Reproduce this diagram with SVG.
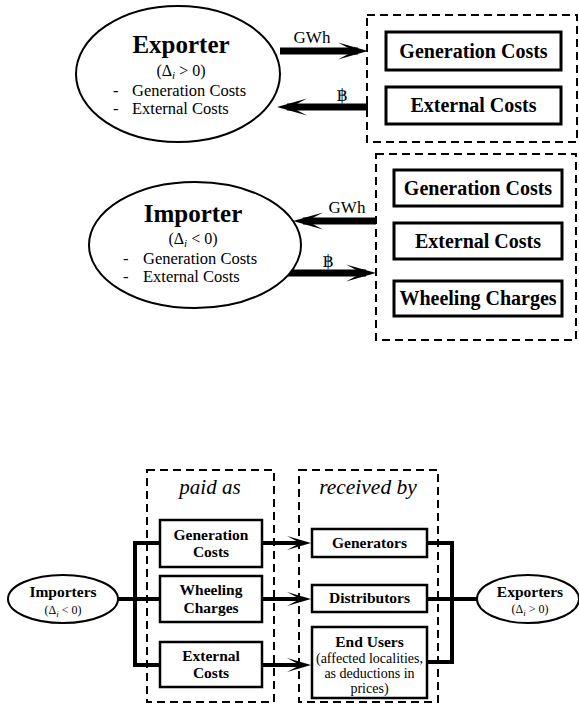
<svg xmlns="http://www.w3.org/2000/svg" width="579" height="710" viewBox="0 0 579 710">
<style>
text{font-family:'Liberation Serif','DejaVu Serif',serif;fill:#000}
.b{font-weight:bold}
.it{font-style:italic}
.mid{text-anchor:middle}
.ell{fill:#fff;stroke:#000;stroke-width:2}
.dash{fill:none;stroke:#000;stroke-width:2;stroke-dasharray:8 5}
.box{fill:#fff;stroke:#000;stroke-width:3}
.sbox{fill:#fff;stroke:#000;stroke-width:2.5}
.big{fill:none;stroke:#000;stroke-width:7;marker-end:url(#ah)}
.sm{fill:none;stroke:#000;stroke-width:4;marker-end:url(#as)}
.br{fill:none;stroke:#000;stroke-width:4}
</style>
<defs>
<marker id="ah" markerUnits="userSpaceOnUse" markerWidth="30" markerHeight="18" viewBox="0 0 30 18" refX="20" refY="9" orient="auto">
<path d="M30,9 L0,0.5 L16,9 L0,17.5 Z" fill="#000"/>
</marker>
<marker id="as" markerUnits="userSpaceOnUse" markerWidth="24" markerHeight="16" viewBox="0 0 24 16" refX="16" refY="8" orient="auto">
<path d="M24,8 L0,1 L13,8 L0,15 Z" fill="#000"/>
</marker>
</defs>
<g font-family="'Liberation Serif', 'DejaVu Serif', serif">
<g id="connectors">
<line class="big" x1="280" y1="51" x2="358" y2="51"/>
<line class="big" x1="368" y1="107" x2="287" y2="107"/>
<line class="big" x1="376" y1="221" x2="303" y2="221"/>
<line class="big" x1="288" y1="273" x2="366" y2="273"/>
<text x="312" y="43" class="mid" font-size="17">GWh</text>
<text x="342" y="101" class="mid" font-size="17">฿</text>
<text x="347" y="213" class="mid" font-size="17">GWh</text>
<text x="328" y="267" class="mid" font-size="17">฿</text>
<path class="br" d="M118,599 H135 M262,543 H135 V665 H262 M135,599 H262"/>
<line class="sm" x1="262" y1="543" x2="303" y2="543"/>
<line class="sm" x1="262" y1="599" x2="303" y2="599"/>
<line class="sm" x1="262" y1="665" x2="303" y2="665"/>
<path class="br" d="M427,543 H452 V662 H427 M427,599 H477"/>
</g>

<g id="exporter">
<ellipse class="ell" cx="178" cy="74" rx="102" ry="68"/>
<text x="181" y="53" class="b mid" font-size="25">Exporter</text>
<text x="181" y="76" class="mid" font-size="16">(Δ<tspan class="it" font-size="11" dy="3">i</tspan><tspan dy="-3"> &gt; 0)</tspan></text>
<text x="113" y="96" font-size="16.5">-</text>
<text x="132" y="96" font-size="16.5">Generation Costs</text>
<text x="113" y="114" font-size="16.5">-</text>
<text x="132" y="114" font-size="16.5">External Costs</text>
</g>

<g id="exporter-costs">
<rect class="dash" x="367" y="15" width="210" height="127"/>
<rect class="box" x="386" y="32" width="175" height="38"/>
<text x="473.5" y="58" class="b mid" font-size="20">Generation Costs</text>
<rect class="box" x="386" y="87" width="175" height="37"/>
<text x="473.5" y="112" class="b mid" font-size="20">External Costs</text>
</g>

<g id="importer">
<ellipse class="ell" cx="195" cy="245" rx="106" ry="63"/>
<text x="193" y="222" class="b mid" font-size="25">Importer</text>
<text x="193" y="244" class="mid" font-size="16">(Δ<tspan class="it" font-size="11" dy="3">i</tspan><tspan dy="-3"> &lt; 0)</tspan></text>
<text x="123" y="264" font-size="16.5">-</text>
<text x="143" y="264" font-size="16.5">Generation Costs</text>
<text x="123" y="282" font-size="16.5">-</text>
<text x="143" y="282" font-size="16.5">External Costs</text>
</g>

<g id="importer-costs">
<rect class="dash" x="376" y="154" width="200" height="186"/>
<rect class="box" x="394" y="170" width="168" height="36"/>
<text x="478" y="195" class="b mid" font-size="20">Generation Costs</text>
<rect class="box" x="394" y="223" width="168" height="36"/>
<text x="478" y="248" class="b mid" font-size="20">External Costs</text>
<rect class="box" x="394" y="281" width="168" height="35"/>
<text x="478" y="305" class="b mid" font-size="20">Wheeling Charges</text>
</g>

<g id="importers">
<ellipse class="ell" cx="63" cy="599" rx="55" ry="24"/>
<text x="63" y="597" class="b mid" font-size="15.5">Importers</text>
<text x="63" y="614" class="mid" font-size="12">(Δ<tspan class="it" font-size="9" dy="3">i</tspan><tspan dy="-3"> &lt; 0)</tspan></text>
</g>

<g id="paid-as">
<rect class="dash" x="147" y="470" width="127" height="232"/>
<text x="210" y="494" class="it mid" font-size="21">paid as</text>
</g>
<g id="generation-costs">
<rect class="sbox" x="160" y="520" width="102" height="47"/>
<text x="211" y="540" class="b mid" font-size="15.5">Generation</text>
<text x="211" y="557" class="b mid" font-size="15.5">Costs</text>
</g>
<g id="wheeling-charges">
<rect class="sbox" x="160" y="576" width="102" height="46"/>
<text x="211" y="595" class="b mid" font-size="15.5">Wheeling</text>
<text x="211" y="613" class="b mid" font-size="15.5">Charges</text>
</g>
<g id="external-costs">
<rect class="sbox" x="160" y="642" width="102" height="45"/>
<text x="211" y="661" class="b mid" font-size="15.5">External</text>
<text x="211" y="678" class="b mid" font-size="15.5">Costs</text>
</g>

<g id="received-by">
<rect class="dash" x="299" y="470" width="139" height="232"/>
<text x="368" y="494" class="it mid" font-size="21.5">received by</text>
</g>
<g id="generators">
<rect class="sbox" x="312" y="529" width="115" height="28"/>
<text x="369.5" y="548" class="b mid" font-size="15.5">Generators</text>
</g>
<g id="distributors">
<rect class="sbox" x="312" y="585" width="115" height="27"/>
<text x="369.5" y="603" class="b mid" font-size="15.5">Distributors</text>
</g>
<g id="end-users">
<rect class="sbox" x="312" y="627" width="115" height="71"/>
<text x="369.5" y="647" class="b mid" font-size="15.5">End Users</text>
<text x="369.5" y="663" class="mid" font-size="14">(affected localities,</text>
<text x="369.5" y="678" class="mid" font-size="14">as deductions in</text>
<text x="369.5" y="693" class="mid" font-size="14">prices)</text>
</g>

<g id="exporters">
<ellipse class="ell" cx="528" cy="599" rx="51" ry="24"/>
<text x="530" y="597" class="b mid" font-size="15.5">Exporters</text>
<text x="530" y="613" class="mid" font-size="12">(Δ<tspan class="it" font-size="9" dy="3">i</tspan><tspan dy="-3"> &gt; 0)</tspan></text>
</g>
</g>
</svg>
